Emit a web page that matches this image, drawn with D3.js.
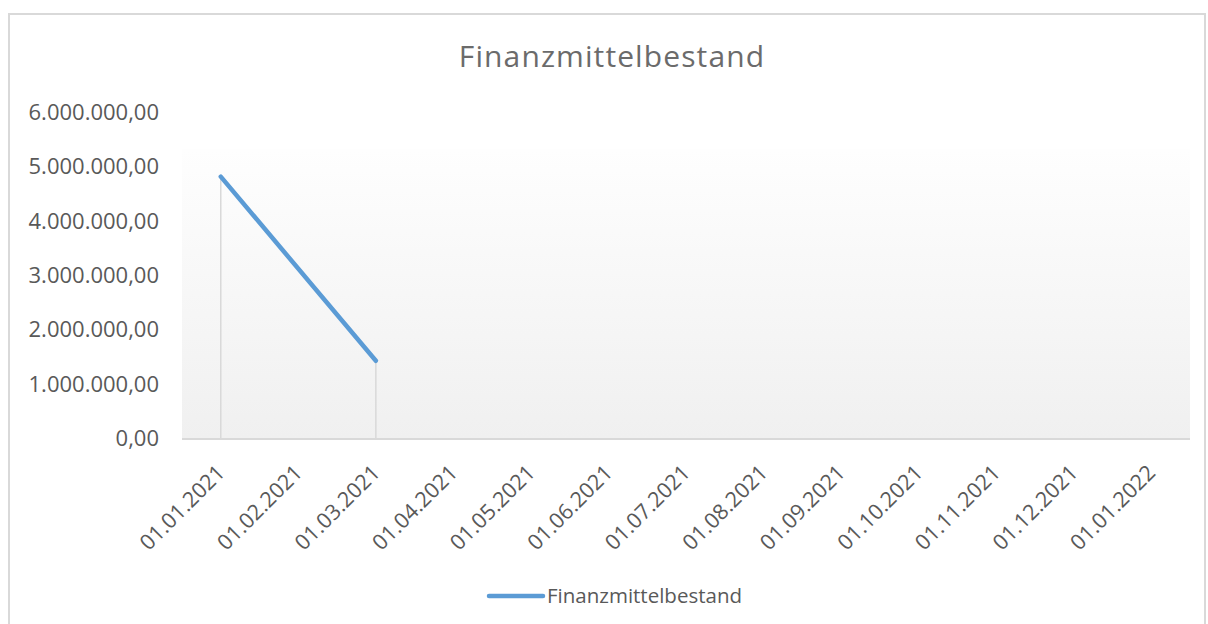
<!DOCTYPE html>
<html>
<head>
<meta charset="utf-8">
<script src="https://cdn.jsdelivr.net/npm/d3@7"></script>
<style>
  body { margin: 0; background: #fff; }
  text { font-family: "Open Sans", sans-serif; fill: #595959; }
</style>
</head>
<body>
<div id="chart"></div>
<script>
var width = 1208,
    height = 624;

// data
var months = ["01.01.2021", "01.02.2021", "01.03.2021", "01.04.2021", "01.05.2021",
              "01.06.2021", "01.07.2021", "01.08.2021", "01.09.2021", "01.10.2021",
              "01.11.2021", "01.12.2021", "01.01.2022"];
var seriesName = "Finanzmittelbestand";
var values = [4820000, null, 1430000, null, null, null, null, null, null, null, null, null, null];
var yTicks = [0, 1000000, 2000000, 3000000, 4000000, 5000000, 6000000];

var plotLeft = 182, plotRight = 1190, plotTop = 149, plotBottom = 438.5;

var de = d3.formatLocale({decimal: ",", thousands: ".", grouping: [3], currency: ["", " €"]});
var fmt = de.format(",.2f");

var svg = d3.select("#chart").append("svg")
    .attr("width", width)
    .attr("height", height);

var defs = svg.append("defs");
var grad = defs.append("linearGradient")
    .attr("id", "plotGrad")
    .attr("x1", 0).attr("y1", 0).attr("x2", 0).attr("y2", 1);
grad.append("stop").attr("offset", "0%").attr("stop-color", "#fefefe");
grad.append("stop").attr("offset", "100%").attr("stop-color", "#f0f0f0");

// chart border
svg.append("rect")
    .attr("x", 9).attr("y", 14)
    .attr("width", 1196).attr("height", 640)
    .attr("fill", "none")
    .attr("stroke", "#d9d9d9")
    .attr("stroke-width", 2);

var x = d3.scalePoint()
    .domain(months)
    .range([plotLeft, plotRight])
    .padding(0.5);

var y = d3.scaleLinear()
    .domain([0, 6000000])
    .range([plotBottom, 112.5]);

svg.append("rect")
    .attr("x", plotLeft).attr("y", plotTop)
    .attr("width", plotRight - plotLeft)
    .attr("height", plotBottom - plotTop)
    .attr("fill", "url(#plotGrad)");

// title
svg.append("text")
    .attr("x", 612)
    .attr("y", 67)
    .attr("text-anchor", "middle")
    .style("font-size", "30px")
    .style("letter-spacing", "1.1px")
    .style("fill", "#6b6b6b")
    .text(seriesName);

// y axis labels (no line, no ticks)
var yAxis = svg.append("g")
    .attr("transform", "translate(159,0)")
    .call(d3.axisLeft(y).tickValues(yTicks).tickFormat(fmt).tickSize(0).tickPadding(0));
yAxis.select(".domain").remove();
yAxis.selectAll("text")
    .style("font-size", "22px")
    .style("font-family", "'Open Sans', sans-serif")
    .attr("fill", "#595959");

var pts = months.map(function(m, i) { return {m: m, v: values[i]}; })
    .filter(function(d) { return d.v !== null; });

// drop lines
svg.selectAll(".drop")
    .data(pts)
    .enter().append("line")
    .attr("class", "drop")
    .attr("x1", function(d) { return x(d.m); })
    .attr("x2", function(d) { return x(d.m); })
    .attr("y1", function(d) { return y(d.v); })
    .attr("y2", plotBottom)
    .attr("stroke", "#d9d9d9")
    .attr("stroke-width", 1.5);

// x axis
var xAxis = svg.append("g")
    .attr("transform", "translate(0," + (plotBottom + 0.5) + ")")
    .call(d3.axisBottom(x).tickSize(0).tickPadding(0));
xAxis.select(".domain")
    .attr("d", "M" + plotLeft + ",0H" + plotRight)
    .attr("stroke", "#d9d9d9")
    .attr("stroke-width", 2);
xAxis.selectAll("text")
    .style("font-size", "21.5px")
    .style("font-family", "'Open Sans', sans-serif")
    .attr("fill", "#595959")
    .attr("text-anchor", "end")
    .attr("dy", 0)
    .attr("y", 0)
    .attr("transform", "translate(5,35) rotate(-45)");

// series line
var line = d3.line()
    .defined(function(d) { return d.v !== null; })
    .x(function(d) { return x(d.m); })
    .y(function(d) { return y(d.v); });

svg.append("path")
    .datum(pts)
    .attr("d", line)
    .attr("fill", "none")
    .attr("stroke", "#5b9bd5")
    .attr("stroke-width", 4.5)
    .attr("stroke-linecap", "round");

// legend
var legend = svg.append("g").attr("transform", "translate(489,596)");
legend.append("line")
    .attr("x1", 0).attr("x2", 54)
    .attr("stroke", "#5b9bd5")
    .attr("stroke-width", 4.5)
    .attr("stroke-linecap", "round");
legend.append("text")
    .attr("x", 58)
    .attr("y", 7)
    .style("font-size", "20.5px")
    .text(seriesName);
</script>
</body>
</html>
